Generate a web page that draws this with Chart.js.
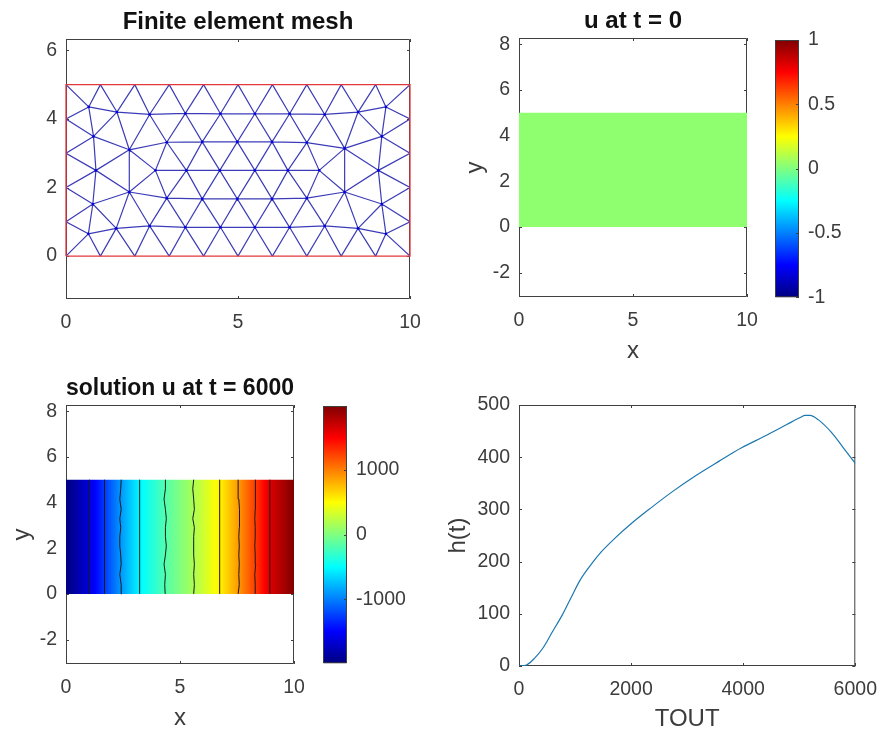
<!DOCTYPE html>
<html>
<head>
<meta charset="utf-8">
<style>
  body { margin: 0; background: #fff; }
  canvas { position: absolute; }
</style>
<script src="https://cdn.jsdelivr.net/npm/chart.js@4/dist/chart.umd.min.js"></script>
</head>
<body>
<canvas id="mesh"></canvas>
<canvas id="initial"></canvas>
<canvas id="initialBar"></canvas>
<canvas id="solution"></canvas>
<canvas id="solutionBar"></canvas>
<canvas id="height"></canvas>
<script>
// mesh nodes, row by row
const rowBX = [0, 1, 2, 3, 4, 5, 6, 7, 8, 9, 10]
const rowBY = [0, 0, 0, 0, 0, 0, 0, 0, 0, 0, 0]
const rowAX = [0.65, 1.46, 2.43, 3.47, 4.49, 5.49, 6.5, 7.52, 8.49, 9.3]
const rowAY = [0.65, 0.81, 0.88, 0.84, 0.84, 0.84, 0.84, 0.88, 0.81, 0.65]
const rowCX = [0.78, 1.84, 2.93, 3.96, 4.98, 5.99, 7.0, 8.1, 9.18]
const rowCY = [1.52, 1.87, 1.69, 1.67, 1.67, 1.67, 1.69, 1.87, 1.52]
const rowDX = [0.87, 2.6, 3.5, 4.47, 5.49, 6.45, 7.36, 9.08]
const rowDY = [2.5, 2.5, 2.5, 2.5, 2.5, 2.5, 2.5, 2.5]
const rowEX = [0.8, 1.84, 2.93, 3.96, 4.98, 5.99, 7.0, 8.1, 9.18]
const rowEY = [3.49, 3.1, 3.32, 3.33, 3.33, 3.33, 3.31, 3.14, 3.49]
const rowFX = [0.66, 1.48, 2.43, 3.47, 4.49, 5.49, 6.5, 7.52, 8.49, 9.3]
const rowFY = [4.35, 4.2, 4.13, 4.16, 4.15, 4.15, 4.15, 4.13, 4.2, 4.35]
const rowTX = [0, 1, 2, 3, 4, 5, 6, 7, 8, 9, 10]
const rowTY = [5, 5, 5, 5, 5, 5, 5, 5, 5, 5, 5]
const rowLY = [1, 2, 3, 4]
const rowLX = [0, 0, 0, 0]
const rowRY = [1, 2, 3, 4]
const rowRX = [10, 10, 10, 10]
const meshEdges = [
  'B0-A0','A0-B1','B1-A1','A1-B2','B2-A2','A2-B3','B3-A3','A3-B4','B4-A4','A4-B5',
  'B5-A5','A5-B6','B6-A6','A6-B7','B7-A7','A7-B8','B8-A8','A8-B9','B9-A9','A9-B10',
  'A0-A1','A1-A2','A2-A3','A3-A4','A4-A5','A5-A6','A6-A7','A7-A8','A8-A9',
  'L0-A0','L0-C0','L1-C0','L1-D0','L2-D0','L2-E0','L3-E0','L3-F0','T0-F0',
  'R0-A9','R0-C8','R1-C8','R1-D7','R2-D7','R2-E8','R3-E8','R3-F9','T10-F9',
  'C0-A0','C0-A1','C0-C1','C0-D0','A1-C1','C1-A2','C1-C2','C2-A2','C2-A3','C3-A3','C3-A4',
  'C4-A4','C4-A5','C5-A5','C5-A6','C6-A6','C6-A7','C7-A7','C7-A8','C8-A8','C8-A9',
  'C2-C3','C3-C4','C4-C5','C5-C6','C6-C7','C7-C8',
  'C1-E1','C1-D0','E1-D0','C1-D1','E1-D1','D0-E0','E0-F0','E0-E1','E0-F1','E1-F1','E1-F2','E1-E2',
  'E2-F2','E2-F3','E3-F3','E3-F4','E4-F4','E4-F5','E5-F5','E5-F6','E6-F6','E6-F7','E7-F7','E7-F8','E8-F8','E8-F9',
  'E2-E3','E3-E4','E4-E5','E5-E6','E6-E7','E7-E8',
  'D1-C2','D1-E2','D1-D2','D2-C2','D2-C3','D2-E2','D2-E3','D2-D3','D3-C3','D3-C4','D3-E3','D3-E4','D3-D4',
  'D4-C4','D4-C5','D4-E4','D4-E5','D4-D5','D5-C5','D5-C6','D5-E5','D5-E6','D5-D6','D6-C6','D6-E6','D6-C7','D6-E7',
  'C7-D7','C7-E7','E7-D7','D7-C8','D7-E8',
  'F0-F1','F1-F2','F2-F3','F3-F4','F4-F5','F5-F6','F6-F7','F7-F8','F8-F9',
  'F0-T1','F1-T1','F1-T2','F2-T2','F2-T3','F3-T3','F3-T4','F4-T4','F4-T5','F5-T5','F5-T6','F6-T6','F6-T7','F7-T7','F7-T8','F8-T8','F8-T9','F9-T9'
]
const rectX = [0, 10, 10, 0, 0]
const rectY = [0, 0, 5, 5, 0]

// final solution: colour values along x, then the contour lines
const solutionX = [0, 1.03, 1.69, 2.4, 3.2, 4.35, 5.63, 6.74, 7.58, 8.31, 8.94, 10]
const solutionU = [-1985, -1624, -1263, -902, -541, -180, 180, 541, 902, 1263, 1624, 1985]
const contourY = [0, 0.4, 0.85, 1.3, 1.7, 2.1, 2.5, 2.9, 3.3, 3.7, 4.15, 4.6, 5]
const contour1 = [1.03, 1.03, 1.03, 1.03, 1.03, 1.03, 1.03, 1.03, 1.03, 1.03, 1.03, 1.03, 1.03]
const contour2 = [1.69, 1.69, 1.67, 1.69, 1.7, 1.69, 1.69, 1.69, 1.7, 1.69, 1.67, 1.69, 1.69]
const contour3 = [2.45, 2.42, 2.36, 2.42, 2.4, 2.36, 2.36, 2.4, 2.36, 2.42, 2.36, 2.4, 2.42]
const contour4 = [3.23, 3.23, 3.23, 3.23, 3.23, 3.23, 3.23, 3.23, 3.23, 3.23, 3.23, 3.23, 3.23]
const contour5 = [4.35, 4.33, 4.36, 4.3, 4.36, 4.4, 4.36, 4.36, 4.4, 4.36, 4.3, 4.36, 4.36]
const contour6 = [5.6, 5.63, 5.6, 5.63, 5.6, 5.6, 5.6, 5.63, 5.56, 5.63, 5.6, 5.56, 5.6]
const contour7 = [6.74, 6.74, 6.74, 6.74, 6.74, 6.74, 6.74, 6.74, 6.74, 6.74, 6.74, 6.74, 6.74]
const contour8 = [7.55, 7.6, 7.58, 7.6, 7.58, 7.6, 7.58, 7.6, 7.6, 7.62, 7.58, 7.55, 7.55]
const contour9 = [8.3, 8.3, 8.28, 8.32, 8.3, 8.28, 8.3, 8.3, 8.28, 8.3, 8.32, 8.3, 8.3]
const contour10 = [8.94, 8.94, 8.94, 8.94, 8.94, 8.94, 8.94, 8.94, 8.94, 8.94, 8.94, 8.94, 8.94]

// h(t) curve
const timeValues = [0, 134, 279, 424, 599, 773, 919, 1093, 1297, 1471, 1703, 1994, 2343, 2750, 3157, 3564, 3971, 4378, 4785, 5017, 5105, 5192, 5337, 5570, 5773, 6000]
const heightValues = [0, 2, 15, 34, 66, 98, 129, 165, 196, 219, 244, 272, 302, 335, 365, 392, 418, 440, 463, 476, 480, 480, 472, 448, 420, 388]

const xTicks10 = [0, 5, 10]
const meshYTicks = [0, 2, 4, 6]
const fieldYTicks = [-2, 0, 2, 4, 6, 8]
const initialBarTicks = [-1, -0.5, 0, 0.5, 1]
const solutionBarTicks = [-1000, 0, 1000]
const timeTicks = [0, 2000, 4000, 6000]
const heightTicks = [0, 100, 200, 300, 400, 500]

const INK = '#404040'
const LABEL = '#3c3c3c'
const FONT = '"Liberation Sans", Arial, sans-serif'

function jet(f) {
  const c = t => Math.round(255 * Math.max(0, Math.min(1, 1.5 - Math.abs(4 * f - t))))
  return `rgb(${c(3)},${c(2)},${c(1)})`
}

function drawBox(chart) {
  const { ctx, chartArea: a, scales } = chart
  const len = chart.options.plugins.box.tick
  ctx.save()
  ctx.strokeStyle = INK
  ctx.lineWidth = 1
  ctx.beginPath()
  ctx.rect(a.left + 0.5, a.top + 0.5, a.width - 1, a.height - 1)
  if (len) {
    scales.x.ticks.forEach(t => {
      const p = Math.round(scales.x.getPixelForValue(t.value)) + 0.5
      ctx.moveTo(p, a.bottom); ctx.lineTo(p, a.bottom - len)
      ctx.moveTo(p, a.top); ctx.lineTo(p, a.top + len)
    })
  }
  scales.y.ticks.forEach(t => {
    const p = Math.round(scales.y.getPixelForValue(t.value)) + 0.5
    if (len) { ctx.moveTo(a.left, p); ctx.lineTo(a.left + len, p) }
    ctx.moveTo(a.right, p); ctx.lineTo(a.right - (len || 3), p)
  })
  ctx.stroke()
  ctx.restore()
}

// MATLAB style box with inward ticks on all four sides
Chart.register({
  id: 'box',
  beforeDatasetsDraw(chart) { if (!chart.options.plugins.box.over) drawBox(chart) },
  afterDatasetsDraw(chart) { if (chart.options.plugins.box.over) drawBox(chart) }
})

function axis(range, ticks, size, title, extra) {
  return Object.assign({
    type: 'linear',
    min: range[0],
    max: range[1],
    grid: { display: false, drawTicks: false },
    border: { display: false },
    afterBuildTicks(s) { s.ticks = ticks.map(v => ({ value: v })) },
    afterFit(s) {
      if (s.isHorizontal()) s.height = size
      else s.width = size
    },
    ticks: {
      autoSkip: false,
      maxRotation: 0,
      padding: 9,
      color: LABEL,
      font: { family: FONT, size: 19.5 },
      callback: v => String(v)
    },
    title: {
      display: !!title,
      text: title,
      color: LABEL,
      padding: 0,
      font: { family: FONT, size: 24 }
    }
  }, extra)
}

function xAxis(range, ticks, size, title, extra) {
  const a = axis(range, ticks, size, title, extra)
  a.ticks.padding = 12
  return a
}

// canvas placed so the plot area lands on the given page box
function panel(id, box, cfg) {
  const titleH = 34
  const left = cfg.leftAxis, bottom = cfg.bottomAxis, right = cfg.right
  const canvas = document.getElementById(id)
  canvas.width = box.r - box.l + left + right
  canvas.height = box.b - box.t + titleH + bottom
  canvas.style.left = (box.l - left) + 'px'
  canvas.style.top = (box.t - titleH) + 'px'
  return new Chart(canvas, {
    type: 'scatter',
    data: { datasets: cfg.datasets },
    options: {
      responsive: false,
      animation: false,
      events: [],
      layout: { padding: cfg.padding || { right, top: cfg.title ? 0 : titleH } },
      scales: { x: cfg.x, y: cfg.y },
      plugins: {
        legend: { display: false },
        tooltip: { enabled: false },
        box: { tick: cfg.tick === undefined ? 3 : cfg.tick, over: !!cfg.over },
        title: {
          display: !!cfg.title,
          text: cfg.title,
          fullSize: false,
          color: '#111',
          font: { family: FONT, size: 24, weight: 'bold', lineHeight: 1 },
          padding: { top: 5, bottom: 5 }
        }
      }
    }
  })
}

const zip = (xs, ys) => xs.map((x, i) => ({ x, y: ys[i] }))
const lineSet = (data, color, width, extra) => Object.assign({ data, borderColor: color, borderWidth: width, showLine: true, pointRadius: 0, tension: 0 }, extra)

function meshPoints() {
  const rows = { B: [rowBX, rowBY], A: [rowAX, rowAY], C: [rowCX, rowCY], D: [rowDX, rowDY], E: [rowEX, rowEY], F: [rowFX, rowFY], T: [rowTX, rowTY], L: [rowLX, rowLY], R: [rowRX, rowRY] }
  const node = name => {
    const r = rows[name[0]], i = +name.slice(1)
    return { x: r[0][i], y: r[1][i] }
  }
  const pts = []
  meshEdges.forEach(e => {
    const [a, b] = e.split('-')
    pts.push(node(a), node(b), { x: NaN, y: NaN })
  })
  return pts
}

// filled rectangle whose colour runs along one axis
function gradientFill(axisId, stops) {
  return ctx => {
    const { chart } = ctx
    if (!chart.chartArea) return 'transparent'
    const s = chart.scales[axisId]
    const p0 = s.getPixelForValue(stops[0][0]), p1 = s.getPixelForValue(stops[stops.length - 1][0])
    const g = axisId === 'x'
      ? chart.ctx.createLinearGradient(p0, 0, p1, 0)
      : chart.ctx.createLinearGradient(0, p0, 0, p1)
    const span = stops[stops.length - 1][0] - stops[0][0]
    stops.forEach(([v, c]) => g.addColorStop((v - stops[0][0]) / span, c))
    return g
  }
}

function solutionStops() {
  const out = []
  for (let i = 0; i < solutionX.length - 1; i++) {
    for (let k = 0; k < 6; k++) {
      const t = k / 6
      const u = solutionU[i] + t * (solutionU[i + 1] - solutionU[i])
      out.push([solutionX[i] + t * (solutionX[i + 1] - solutionX[i]), jet((u + 1985) / 3970)])
    }
  }
  out.push([10, jet(1)])
  return out
}

function barStops(lo, hi) {
  const out = []
  for (let k = 0; k <= 32; k++) out.push([lo + (hi - lo) * k / 32, jet(k / 32)])
  return out
}

const barPadding = { left: 2, top: 34, bottom: 20 }

panel('mesh', { l: 66, t: 39, r: 410, b: 299 }, {
  title: 'Finite element mesh', leftAxis: 40, bottomAxis: 40, right: 24,
  x: xAxis([0, 10], xTicks10, 40),
  y: axis([-1.25, 6.33], meshYTicks, 40),
  datasets: [
    lineSet(zip(rectX, rectY), '#e2383c', 1.3, { clip: 3 }),
    { data: zip(rowAX.concat(rowCX, rowDX, rowEX, rowFX), rowAY.concat(rowCY, rowDY, rowEY, rowFY)), pointRadius: 1.3, backgroundColor: '#0000e0', borderWidth: 0 },
    lineSet(meshPoints(), '#3c3cb8', 1.2)
  ]
})

panel('initial', { l: 519, t: 38, r: 747, b: 297 }, {
  title: 'u at t = 0', leftAxis: 58, bottomAxis: 69, right: 24,
  x: xAxis([0, 10], xTicks10, 69, 'x'),
  y: axis([-3.07, 8.27], fieldYTicks, 58, 'y'),
  datasets: [
    lineSet(zip([0, 10], [5, 5]), 'transparent', 0, { fill: { value: 0 }, backgroundColor: '#8fff70' })
  ]
})

panel('initialBar', { l: 775, t: 40, r: 799, b: 298 }, {
  leftAxis: 2, bottomAxis: 20, right: 70, tick: 0, over: true, padding: barPadding,
  x: axis([0, 1], [], 0, '', { display: false }),
  y: axis([-1, 1], initialBarTicks, 70, '', { position: 'right' }),
  datasets: [
    lineSet(zip([0, 1], [1, 1]), 'transparent', 0, { fill: { value: -1 }, backgroundColor: gradientFill('y', barStops(-1, 1)) })
  ]
})

panel('solution', { l: 66, t: 405, r: 294, b: 664 }, {
  title: 'solution u at t = 6000', leftAxis: 58, bottomAxis: 69, right: 24,
  x: xAxis([0, 10], xTicks10, 69, 'x'),
  y: axis([-3.07, 8.27], fieldYTicks, 58, 'y'),
  datasets: [
    ...[contour1, contour2, contour3, contour4, contour5, contour6, contour7, contour8, contour9, contour10]
      .map(c => lineSet(zip(c, contourY), '#1a1a1a', 1)),
    lineSet(zip([0, 10], [5, 5]), 'transparent', 0, { fill: { value: 0 }, backgroundColor: gradientFill('x', solutionStops()) })
  ]
})

panel('solutionBar', { l: 323, t: 406, r: 347, b: 664 }, {
  leftAxis: 2, bottomAxis: 20, right: 70, tick: 0, over: true, padding: barPadding,
  x: axis([0, 1], [], 0, '', { display: false }),
  y: axis([-1985, 1985], solutionBarTicks, 70, '', { position: 'right' }),
  datasets: [
    lineSet(zip([0, 1], [1985, 1985]), 'transparent', 0, { fill: { value: -1985 }, backgroundColor: gradientFill('y', barStops(-1985, 1985)) })
  ]
})

panel('height', { l: 519, t: 405, r: 863, b: 666 }, {
  leftAxis: 75, bottomAxis: 68, right: 26,
  x: xAxis([0, 6000], timeTicks, 68, 'TOUT'),
  y: axis([0, 500], heightTicks, 75, 'h(t)'),
  datasets: [lineSet(zip(timeValues, heightValues), '#1c78b0', 1.2, { cubicInterpolationMode: 'monotone' })]
})
</script>
</body>
</html>
